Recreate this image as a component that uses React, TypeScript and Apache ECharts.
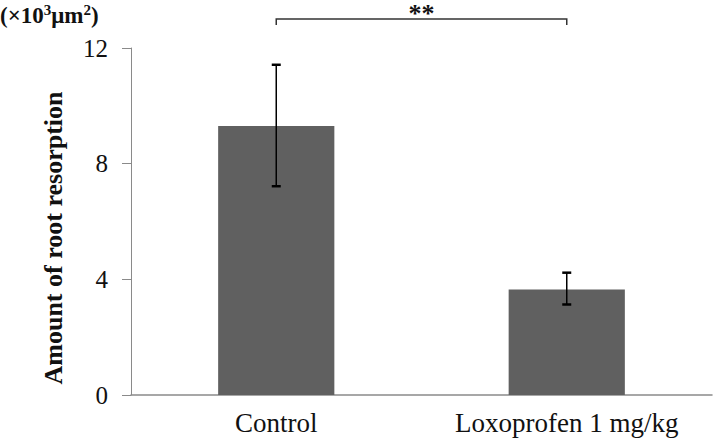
import React, { useEffect, useRef } from "react";
import * as echarts from "echarts";

const categories = ["Control", "Loxoprofen 1 mg/kg"];
const means = [9.3, 3.65];
const errLow = [7.22, 3.13];
const errHigh = [11.42, 4.23];
const yTicks = [0, 4, 8, 12];
const bracketLevel = 13.0;
const sigLabel = "**";
const yTitle = "Amount of root resorption";

const FONT = "'Liberation Serif', 'Times New Roman', serif";

export default function App() {
  const ref = useRef<HTMLDivElement>(null);
  useEffect(() => {
    if (!ref.current) return;
    const chart = echarts.init(ref.current, undefined, { renderer: "svg" });
    chart.setOption({
      animation: false,
      backgroundColor: "#ffffff",
      grid: { left: 131, right: 1, top: 48, bottom: 45 },
      graphic: [
        {
          type: "text",
          left: 0,
          top: 2,
          style: {
            text: "{m|(×10}{s|3}{m|μm}{s|2}{m|)}",
            rich: {
              m: { font: `bold 23px ${FONT}`, fill: "#111", verticalAlign: "bottom" },
              s: { font: `bold 15px ${FONT}`, fill: "#111", padding: [0, 0, 10, 0], verticalAlign: "bottom" },
            },
          },
        },
        {
          type: "text",
          x: 53,
          y: 238,
          rotation: Math.PI / 2,
          style: {
            text: yTitle,
            font: `bold 26px ${FONT}`,
            fill: "#111",
            align: "center",
            verticalAlign: "middle",
          },
        },
      ],
      xAxis: {
        type: "category",
        data: categories,
        axisLine: { lineStyle: { color: "#8a8a8a", width: 1.5 } },
        axisTick: { show: false },
        axisLabel: {
          fontFamily: FONT,
          fontSize: 27,
          color: "#111",
          margin: 14,
          interval: 0,
          hideOverlap: false,
        },
      },
      yAxis: {
        type: "value",
        min: 0,
        max: 12,
        interval: 4,
        axisLine: { show: true, lineStyle: { color: "#8a8a8a", width: 1 } },
        axisTick: { show: true, inside: false, length: 9, lineStyle: { color: "#8a8a8a" } },
        splitLine: { show: false },
        axisLabel: {
          fontFamily: FONT,
          fontSize: 25,
          color: "#111",
          margin: 23,
          formatter: (v: number) => (yTicks.includes(v) ? String(v) : ""),
        },
      },
      series: [
        {
          type: "bar",
          data: means,
          barWidth: "40%",
          itemStyle: { color: "#606060" },
        },
        {
          type: "custom",
          data: categories.map((_, i) => [i, errLow[i], errHigh[i]]),
          z: 10,
          renderItem: (params: any, api: any) => {
            const x = api.value(0);
            const lo = api.coord([x, api.value(1)]);
            const hi = api.coord([x, api.value(2)]);
            const cap = 4.5;
            const st = { stroke: "#000", lineWidth: 1.5 };
            return {
              type: "group",
              children: [
                { type: "line", shape: { x1: lo[0], y1: lo[1], x2: hi[0], y2: hi[1] }, style: st },
                { type: "line", shape: { x1: lo[0] - cap, y1: lo[1], x2: lo[0] + cap, y2: lo[1] }, style: { stroke: "#000", lineWidth: 2.5 } },
                { type: "line", shape: { x1: hi[0] - cap, y1: hi[1], x2: hi[0] + cap, y2: hi[1] }, style: { stroke: "#000", lineWidth: 2.5 } },
              ],
            };
          },
        },
        {
          type: "custom",
          data: [[0, 1, bracketLevel]],
          clip: false,
          z: 10,
          renderItem: (params: any, api: any) => {
            const a = api.coord([api.value(0), api.value(2)]);
            const b = api.coord([api.value(1), api.value(2)]);
            const drop = 6;
            const st = { stroke: "#333", lineWidth: 1.5, fill: "none" };
            return {
              type: "group",
              children: [
                {
                  type: "polyline",
                  shape: { points: [[a[0], a[1] + drop], [a[0], a[1]], [b[0], b[1]], [b[0], b[1] + drop]] },
                  style: st,
                },
                {
                  type: "text",
                  x: (a[0] + b[0]) / 2,
                  y: a[1] - 6,
                  style: {
                    text: sigLabel,
                    font: `bold 26px ${FONT}`,
                    fill: "#111",
                    align: "center",
                    verticalAlign: "middle",
                  },
                },
              ],
            };
          },
        },
      ],
    });
    return () => chart.dispose();
  }, []);
  return (
    <div
      ref={ref}
      style={{ position: "fixed", left: 0, top: 0, width: 713, height: 440 }}
    />
  );
}
